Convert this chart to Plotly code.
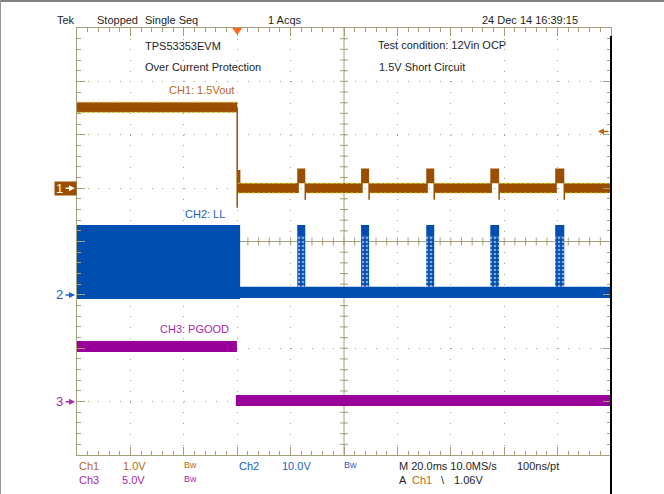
import plotly.graph_objects as go

T_RANGE_MS = [-60, 140]          # 20 ms/div, 10 div, trigger at 0
Y_RANGE_DIV = [-4, 4]            # 8 vertical divisions
ch_scale = {"CH1": 1.0, "CH2": 10.0, "CH3": 5.0}      # V/div
ch_offset_div = {"CH1": 1.0, "CH2": -1.0, "CH3": -3.0}
trigger_level_v = 1.06

short_time_ms = 0.0
burst_start_ms = [22.5, 46.4, 70.8, 94.8, 119.1]
burst_end_ms = [25.5, 49.4, 73.8, 98.1, 122.5]

ch1_pre_band_v = [1.42, 1.61]
ch1_fall_min_v = -0.37
ch1_early_band_v = [-0.04, 0.34]
ch1_early_end_ms = 1.2
ch1_post_band_v = [-0.09, 0.09]
ch1_bump_band_v = [0.09, 0.37]
ch1_bump_dip_v = -0.22

ch2_pre_band_v = [-0.75, 13.1]
ch2_pre_end_ms = 1.1
ch2_post_band_v = [-0.6, 1.5]
ch2_burst_top_v = [10.9, 13.1]
ch2_burst_mid_v = [1.5, 10.9]

ch3_pre_band_v = [4.64, 5.67]
ch3_pre_end_ms = -0.1
ch3_post_band_v = [-0.41, 0.62]
ch3_post_start_ms = -0.5

# ---------------- styling ----------------
BROWN = "rgb(155,78,0)"
BROWN_TXT = "rgb(185,105,25)"
YELLOW = "rgba(205,195,20,0.95)"
BLUE = "rgb(0,78,176)"
BLUE_TXT = "rgb(35,95,195)"
PURPLE = "rgb(153,0,153)"
PURPLE_TXT = "rgb(170,40,170)"
GRAT = "rgb(165,158,122)"
FONT = "Liberation Sans, Arial, sans-serif"

L, R, T, B = 77, 53, 28, 39
W, H = 664, 494
PW, PH = W - L - R, H - T - B


def X(px):
    return (px - L) / PW


def Y(py):
    return (H - B - py) / PH


def to_div(v, ch):
    return v / ch_scale[ch] + ch_offset_div[ch]


def rects(spans, ch):
    xs, ys = [], []
    for t0, t1, lo, hi in spans:
        a, b = to_div(lo, ch), to_div(hi, ch)
        xs += [t0, t1, t1, t0, t0, None]
        ys += [b, b, a, a, b, None]
    return xs, ys


def edges(spans, ch):
    xs, ys = [], []
    for t0, t1, lo, hi in spans:
        for v in (lo, hi):
            xs += [t0, t1, None]
            ys += [to_div(v, ch)] * 2 + [None]
    return xs, ys


fig = go.Figure()


def band(spans, ch, color, pattern=None):
    xs, ys = rects(spans, ch)
    kw = dict(x=xs, y=ys, mode="lines", fill="toself", fillcolor=color,
              line=dict(width=0, color=color), hoverinfo="skip", showlegend=False)
    if pattern:
        kw["fillpattern"] = pattern
    fig.add_trace(go.Scatter(**kw))


# ---- CH1 ----
gaps = [short_time_ms] + burst_end_ms
ends = burst_start_ms + [T_RANGE_MS[1]]
ch1_post = [(g, e, *ch1_post_band_v) for g, e in zip(gaps, ends)]
ch1_bumps = [(s, e, *ch1_bump_band_v) for s, e in zip(burst_start_ms, burst_end_ms)]
ch1_bump_lead = [(s, s + 0.6, ch1_post_band_v[0], ch1_bump_band_v[1]) for s in burst_start_ms]
ch1_pre = [(T_RANGE_MS[0], short_time_ms, *ch1_pre_band_v)]
ch1_early = [(short_time_ms, ch1_early_end_ms, *ch1_early_band_v)]
band(ch1_pre + ch1_post + ch1_bumps + ch1_bump_lead + ch1_early, "CH1", BROWN)
ex, ey = edges(ch1_pre + ch1_post, "CH1")
fig.add_trace(go.Scatter(x=ex, y=ey, mode="lines", hoverinfo="skip", showlegend=False,
                         line=dict(color=YELLOW, width=1, dash="3px,2px")))
fx = [short_time_ms, short_time_ms, None]
fy = [to_div(sum(ch1_pre_band_v) / 2, "CH1"), to_div(ch1_fall_min_v, "CH1"), None]
for e in burst_end_ms:
    fx += [e, e, None]
    fy += [to_div(ch1_bump_band_v[0], "CH1"), to_div(ch1_bump_dip_v, "CH1"), None]
fig.add_trace(go.Scatter(x=fx, y=fy, mode="lines", hoverinfo="skip", showlegend=False,
                         line=dict(color=BROWN, width=1.5)))

# ---- CH2 ----
band([(T_RANGE_MS[0], ch2_pre_end_ms, *ch2_pre_band_v),
      (ch2_pre_end_ms, T_RANGE_MS[1], *ch2_post_band_v)], "CH2", BLUE)
band([(s, e, *ch2_burst_top_v) for s, e in zip(burst_start_ms, burst_end_ms)], "CH2", BLUE)
band([(s, e, *ch2_burst_mid_v) for s, e in zip(burst_start_ms, burst_end_ms)], "CH2", BLUE,
     pattern=dict(shape=".", bgcolor=BLUE, fgcolor="white", size=4, solidity=0.35))

# ---- CH3 ----
band([(T_RANGE_MS[0], ch3_pre_end_ms, *ch3_pre_band_v),
      (ch3_post_start_ms, T_RANGE_MS[1], *ch3_post_band_v)], "CH3", PURPLE)

# ---------------- graticule ----------------
shapes = []
tc = (T_RANGE_MS[0] + T_RANGE_MS[1]) / 2
shapes.append(dict(type="line", xref="x", yref="paper", x0=tc, x1=tc, y0=0, y1=1,
                   line=dict(color=GRAT, width=1), layer="below"))
shapes.append(dict(type="line", xref="paper", yref="y", x0=0, x1=1, y0=0, y1=0,
                   line=dict(color=GRAT, width=1), layer="below"))
n_x = int((T_RANGE_MS[1] - T_RANGE_MS[0]) / 4)
for i in range(1, n_x):
    t = T_RANGE_MS[0] + 4 * i
    shapes.append(dict(type="line", xref="x", yref="y", ysizemode="pixel", yanchor=0,
                       x0=t, x1=t, y0=-4, y1=4, line=dict(color=GRAT, width=1), layer="below"))
n_y = int((Y_RANGE_DIV[1] - Y_RANGE_DIV[0]) / 0.2)
for i in range(1, n_y):
    yv = Y_RANGE_DIV[0] + 0.2 * i
    shapes.append(dict(type="line", xref="x", yref="y", xsizemode="pixel", xanchor=tc,
                       x0=-4, x1=4, y0=yv, y1=yv, line=dict(color=GRAT, width=1), layer="below"))
# trigger position marker
shapes.append(dict(type="path", xref="x", yref="y", xsizemode="pixel", ysizemode="pixel",
                   xanchor=short_time_ms, yanchor=Y_RANGE_DIV[1], path="M-5,0 L5,0 L0,-7 Z",
                   fillcolor="rgb(255,105,30)", line=dict(width=0)))
# frame lines
shapes.append(dict(type="line", xref="paper", yref="paper", x0=X(0), x1=X(W), y0=Y(1), y1=Y(1),
                   line=dict(color="rgb(130,130,130)", width=2)))
shapes.append(dict(type="line", xref="paper", yref="paper", x0=X(0.5), x1=X(0.5), y0=Y(0), y1=Y(H),
                   line=dict(color="rgb(150,150,150)", width=1)))
shapes.append(dict(type="line", xref="paper", yref="paper", x0=1, x1=1, y0=Y(36), y1=Y(H),
                   line=dict(color="black", width=2)))

# ---------------- texts ----------------
ann = []


def txt(s, x, y, color="rgb(30,30,30)", size=11, anchor="left"):
    ann.append(dict(text=s, x=X(x), y=Y(y), xref="paper", yref="paper", showarrow=False,
                    xanchor=anchor, yanchor="middle", font=dict(family=FONT, size=size, color=color)))


txt("Tek", 55, 20)
txt("Stopped", 95, 20)
txt("Single Seq", 143, 20)
txt("1 Acqs", 266, 20)
txt("24 Dec 14 16:39:15", 480, 20)

txt("TPS53353EVM", 143, 46)
txt("Over Current Protection", 143, 67)
txt("Test condition: 12Vin OCP", 376, 45)
txt("1.5V Short Circuit", 377, 67)
txt("CH1: 1.5Vout", 236, 90, BROWN_TXT, anchor="right")
txt("CH2: LL", 227, 214, BLUE_TXT, anchor="right")
txt("CH3: PGOOD", 231, 329, PURPLE_TXT, anchor="right")

txt("Ch1", 77, 466, BROWN_TXT)
txt("1.0V", 121, 466, BROWN_TXT)
txt("Bw", 182, 465, BROWN_TXT, size=9)
txt("Ch2", 237, 466, BLUE_TXT)
txt("10.0V", 280, 466, BLUE_TXT)
txt("Bw", 342, 465, BLUE_TXT, size=9)
txt("M 20.0ms 10.0MS/s", 397, 466)
txt("100ns/pt", 515, 466)
txt("Ch3", 77, 480, PURPLE_TXT)
txt("5.0V", 120, 480, PURPLE_TXT)
txt("Bw", 182, 479, PURPLE_TXT, size=9)
txt("A", 397, 480)
txt("Ch1", 410, 480, BROWN_TXT)
txt("\\", 439, 480)
txt("1.06V", 452, 480)


# channel ground markers: label + real arrow pointing at the graticule edge
def ground_marker(label, ch, txt_color, arrow_color, box=None):
    yv = to_div(0, ch)
    if box:
        ann.append(dict(text="", x=T_RANGE_MS[0], y=yv, xref="x", yref="y", showarrow=False,
                        xanchor="right", yanchor="middle", bgcolor=box, width=21, height=13,
                        borderpad=0))
    ann.append(dict(text=label, x=T_RANGE_MS[0], y=yv, xref="x", yref="y", showarrow=False,
                    xanchor="right", yanchor="middle", xshift=-12,
                    font=dict(family=FONT, size=13, color=txt_color)))
    ann.append(dict(text="", x=T_RANGE_MS[0], y=yv, xref="x", yref="y", showarrow=True,
                    ax=-11, ay=0, xshift=-2, arrowhead=2, arrowsize=0.8, arrowwidth=1.5,
                    arrowcolor=arrow_color))


ground_marker("1", "CH1", "white", "white", box=BROWN)
ground_marker("2", "CH2", BLUE_TXT, BLUE_TXT)
ground_marker("3", "CH3", PURPLE_TXT, PURPLE_TXT)
# trigger level arrow on the right edge
ann.append(dict(text="", x=T_RANGE_MS[1], y=to_div(trigger_level_v, "CH1"), xref="x", yref="y",
                showarrow=True, ax=12, ay=0, xshift=-13, arrowhead=2, arrowsize=0.8,
                arrowwidth=1.5, arrowcolor="rgb(190,100,20)"))

axis_common = dict(showticklabels=False, showline=True, linecolor=GRAT, linewidth=1, mirror="ticks",
                   ticks="inside", ticklen=8, tickcolor=GRAT, tickwidth=1, zeroline=False,
                   showgrid=True, gridcolor=GRAT, gridwidth=1, griddash="1px,9.68px", fixedrange=True)
fig.update_layout(
    width=W, height=H, margin=dict(l=L, r=R, t=T, b=B, pad=0),
    paper_bgcolor="white", plot_bgcolor="white", showlegend=False,
    xaxis=dict(range=T_RANGE_MS, dtick=20, tick0=T_RANGE_MS[0],
               minor=dict(dtick=4, ticks="inside", ticklen=4, tickcolor=GRAT, showgrid=False),
               **axis_common),
    yaxis=dict(range=Y_RANGE_DIV, dtick=1, tick0=Y_RANGE_DIV[0],
               minor=dict(dtick=0.2, ticks="inside", ticklen=4, tickcolor=GRAT, showgrid=False),
               **axis_common),
    shapes=shapes, annotations=ann,
)
fig.write_html("out.html", config={"displayModeBar": False},
               post_script="document.body.style.margin='0';document.body.style.overflow='hidden';")
